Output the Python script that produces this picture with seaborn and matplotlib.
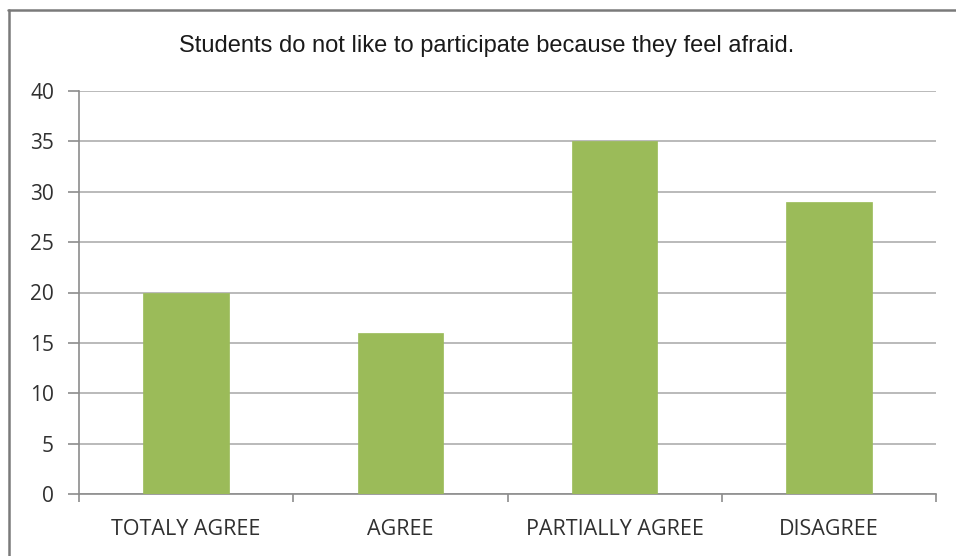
import matplotlib
matplotlib.use("Agg")
import matplotlib.pyplot as plt
from matplotlib.lines import Line2D
from matplotlib.ticker import FixedLocator
import seaborn as sns
import pandas as pd

title = "Students do not like to participate because they feel afraid."
categories = ["TOTALY AGREE", "AGREE", "PARTIALLY AGREE", "DISAGREE"]
values = [20, 16, 35, 29]
y_ticks = [0, 5, 10, 15, 20, 25, 30, 35, 40]

df = pd.DataFrame({"answer": categories, "count": values})

sns.set_theme(style="white")
plt.rcParams["font.family"] = ["Open Sans", "DejaVu Sans"]

W, H = 956, 556
fig = plt.figure(figsize=(W / 100, H / 100), dpi=100)
ax = fig.add_axes([79 / W, 1 - 494 / H, (936 - 79) / W, (494 - 91) / H])

sns.barplot(data=df, x="answer", y="count", ax=ax, color="#9BBB59",
            saturation=1, width=0.4, edgecolor="#9BBB59", linewidth=0.5,
            zorder=3)

ax.set_ylim(0, 40)
ax.set_xlim(-0.5, len(categories) - 0.5)
ax.set_yticks(y_ticks)
ax.set_yticklabels([str(v) for v in y_ticks])
ax.yaxis.grid(True, color="#b4b4b4", linewidth=1.3, zorder=0)
ax.set_axisbelow(True)
ax.set_xlabel("")
ax.set_ylabel("")

for s in ["top", "right"]:
    ax.spines[s].set_visible(False)
for s in ["left", "bottom"]:
    ax.spines[s].set_color("#8c8c8c")
    ax.spines[s].set_linewidth(1.2)

ax.tick_params(axis="y", which="major", length=8, width=1.2, color="#8c8c8c",
               labelsize=15, labelcolor="#303030", pad=10, left=True)
ax.tick_params(axis="x", which="major", length=0, labelsize=15.5,
               labelcolor="#303030", pad=18)
ax.xaxis.set_minor_locator(FixedLocator([i - 0.5 for i in range(len(categories) + 1)]))
ax.tick_params(axis="x", which="minor", length=6, width=1.2, color="#8c8c8c",
               bottom=True)

fig.text(487 / W, 1 - 46 / H, title, ha="center", va="center",
         fontsize=17, color="#1a1a1a", family=["Liberation Sans", "DejaVu Sans"])

# outer chart frame
fig.add_artist(Line2D([8 / W, 1.0], [1 - 10 / H, 1 - 10 / H],
                      transform=fig.transFigure, color="#7a7a7a", linewidth=1.8))
fig.add_artist(Line2D([9 / W, 9 / W], [1 - 10 / H, 0.0],
                      transform=fig.transFigure, color="#7a7a7a", linewidth=1.8))

fig.savefig("out.png", dpi=100, facecolor="white")
